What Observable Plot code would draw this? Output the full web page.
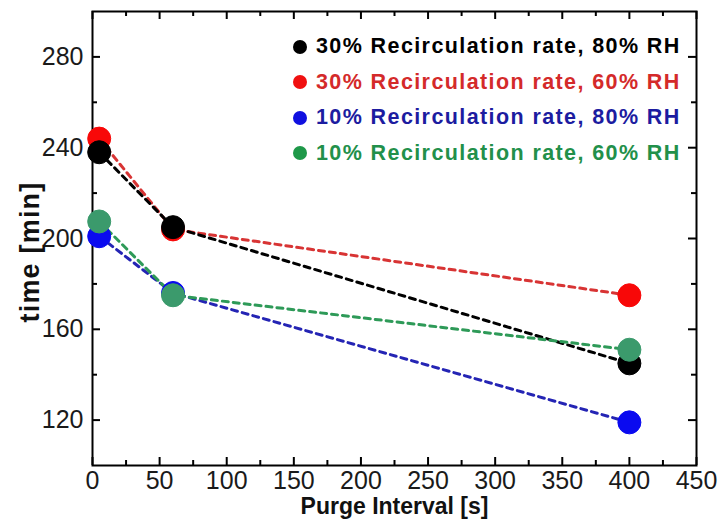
<!DOCTYPE html>
<html>
<head>
<meta charset="utf-8">
<script src="https://cdn.jsdelivr.net/npm/d3@7"></script>
<script src="https://cdn.jsdelivr.net/npm/@observablehq/plot@0.6"></script>
<style>
  html, body { margin: 0; padding: 0; background: #fff; }
  #wrap { position: relative; width: 718px; height: 529px; font-family: "Liberation Sans", Arial, sans-serif; }
  #legend { position: absolute; left: 293px; top: 29px; }
  .row { display: flex; align-items: center; height: 35.5px; font-weight: bold; font-size: 21.5px; letter-spacing: 1.4px; white-space: nowrap; }
  .dot { width: 14px; height: 14px; border-radius: 50%; margin-right: 9px; flex: none; }
  svg text { font-family: "Liberation Sans", Arial, sans-serif; }
  .xtitle text { font-weight: bold; font-size: 23px; fill: #111; }
  .ytitle text { font-weight: bold; font-size: 27px; letter-spacing: 1.2px; fill: #111; }
</style>
</head>
<body>
<div id="wrap"></div>
<script>
// Data
const purgeInterval = [5, 60, 400];
const seriesNames = [
  "30% Recirculation rate, 80% RH",
  "30% Recirculation rate, 60% RH",
  "10% Recirculation rate, 80% RH",
  "10% Recirculation rate, 60% RH"
];
const rec30rh80 = [238, 205, 145];
const rec30rh60 = [244, 204, 175];
const rec10rh80 = [201, 176, 119];
const rec10rh60 = [207.5, 175, 151];
const pointColors = ["#000000", "#f80808", "#0a0af0", "#3b9a6c"];
const lineColors = ["#000000", "#d83434", "#2424b4", "#2e9a58"];
const textColors = ["#000000", "#d42a2a", "#1c1ca0", "#22904a"];
const legendDotColors = ["#000000", "#f01010", "#1010e0", "#1e9848"];
const xTicks = [0, 50, 100, 150, 200, 250, 300, 350, 400, 450];
const xMinorTicks = [25, 75, 125, 175, 225, 275, 325, 375, 425];
const yTicks = [120, 160, 200, 240, 280];
const yMinorTicks = [140, 180, 220, 260];
const xTitle = "Purge Interval [s]";
const yTitle = "time [min]";

const seriesValues = [rec30rh80, rec30rh60, rec10rh80, rec10rh60];
const rows = [];
seriesValues.forEach((vals, i) => {
  vals.forEach((v, j) => rows.push({series: seriesNames[i], x: purgeInterval[j], y: v}));
});
// drawing order: red, blue, black, green
const drawOrder = [1, 2, 0, 3];
const ordered = drawOrder.flatMap(i => rows.filter(r => r.series === seriesNames[i]));

const W = 718, H = 529, mL = 92, mR = 22, mT = 11, mB = 64;
const innerW = W - mL - mR, innerH = H - mT - mB;
const major = 8, minor = 5;

const chart = Plot.plot({
  width: W,
  height: H,
  marginLeft: mL,
  marginRight: mR,
  marginTop: mT,
  marginBottom: mB,
  style: {fontSize: "25px", color: "#1a1a1a", background: "white"},
  x: {domain: [0, 450]},
  y: {domain: [100, 300]},
  color: {domain: seriesNames, range: pointColors},
  marks: [
    // tick labels
    Plot.axisX(xTicks, {tickSize: 0, tickPadding: 6, label: null, fontSize: 25}),
    Plot.axisY(yTicks, {tickSize: 0, tickPadding: 9, label: null, fontSize: 25}),
    // inward ticks: bottom/top
    Plot.tickX(xTicks, {x: d => d, insetTop: innerH - major, stroke: "black", strokeWidth: 2}),
    Plot.tickX(xMinorTicks, {x: d => d, insetTop: innerH - minor, stroke: "black", strokeWidth: 2}),
    Plot.tickX(xTicks, {x: d => d, insetBottom: innerH - major, stroke: "black", strokeWidth: 2}),
    Plot.tickX(xMinorTicks, {x: d => d, insetBottom: innerH - minor, stroke: "black", strokeWidth: 2}),
    // inward ticks: left/right
    Plot.tickY(yTicks, {y: d => d, insetRight: innerW - major, stroke: "black", strokeWidth: 2}),
    Plot.tickY(yMinorTicks, {y: d => d, insetRight: innerW - minor, stroke: "black", strokeWidth: 2}),
    Plot.tickY(yTicks, {y: d => d, insetLeft: innerW - major, stroke: "black", strokeWidth: 2}),
    Plot.tickY(yMinorTicks, {y: d => d, insetLeft: innerW - minor, stroke: "black", strokeWidth: 2}),
    Plot.frame({stroke: "black", strokeWidth: 2}),
    // axis titles
    Plot.text([xTitle], {text: d => d, frameAnchor: "bottom", dy: 41, lineAnchor: "middle", className: "xtitle"}),
    Plot.text([yTitle], {text: d => d, frameAnchor: "bottom-left", dx: -62, dy: -143, rotate: -90, textAnchor: "start", lineAnchor: "middle", className: "ytitle"}),
    // dashed lines
    ...drawOrder.map(i => Plot.line(rows.filter(r => r.series === seriesNames[i]), {
      x: "x", y: "y", stroke: lineColors[i], strokeWidth: 3, strokeDasharray: "6,5"
    })),
    // dots
    Plot.dot(ordered, {x: "x", y: "y", r: 11.5, fill: "series", stroke: "series", strokeWidth: 1})
  ]
});

const wrap = document.getElementById("wrap");
wrap.appendChild(chart);

const legend = document.createElement("div");
legend.id = "legend";
seriesNames.forEach((name, i) => {
  const row = document.createElement("div");
  row.className = "row";
  row.style.color = textColors[i];
  const dot = document.createElement("span");
  dot.className = "dot";
  dot.style.background = legendDotColors[i];
  row.appendChild(dot);
  row.appendChild(document.createTextNode(name));
  legend.appendChild(row);
});
wrap.appendChild(legend);
</script>
</body>
</html>
